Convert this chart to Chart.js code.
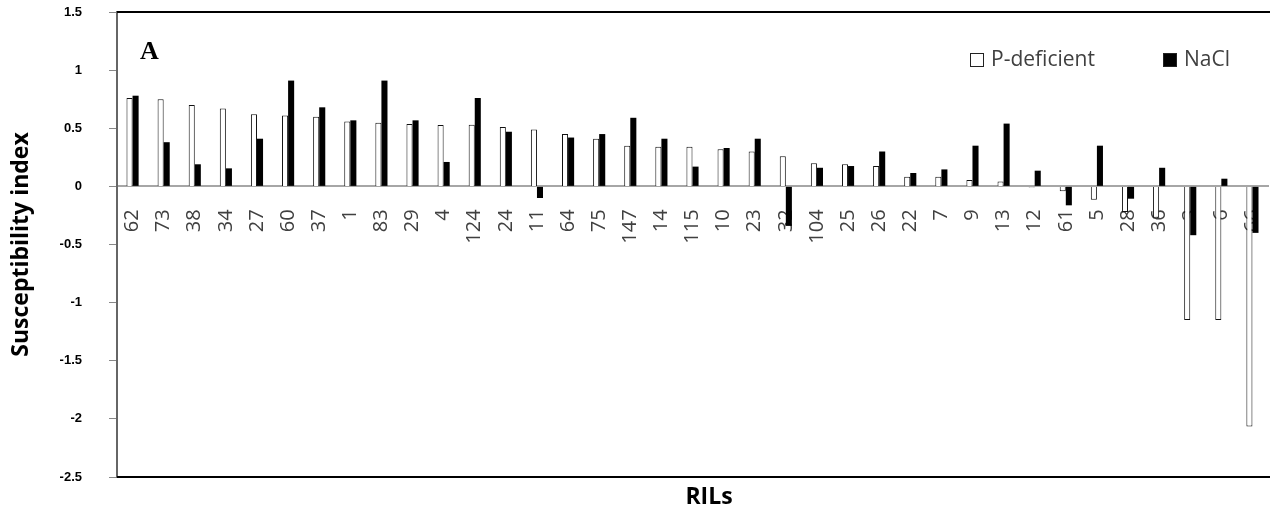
<!DOCTYPE html>
<html>
<head>
<meta charset="utf-8">
<script src="https://cdn.jsdelivr.net/npm/chart.js@4.4.1/dist/chart.umd.min.js"></script>
<style>
  body { margin: 0; background: #fff; }
  #wrap { position: relative; width: 1270px; height: 514px; }
  .tag { position: absolute; left: 140px; top: 36px; font: bold 26px "Liberation Serif", serif; color: #000; }
  .legend { position: absolute; top: 44px; font: 21px "Open Sans", sans-serif; color: #404040; white-space: nowrap; }
  .legend span.box { display: inline-block; width: 12px; height: 12px; border: 1px solid #222; vertical-align: -1px; margin-right: 7px; }
</style>
</head>
<body>
<div id="wrap">
  <canvas id="myChart" width="1270" height="514"></canvas>
  <div class="tag">A</div>
  <div class="legend" style="left:970px"><span class="box" style="background:#fff"></span>P-deficient</div>
  <div class="legend" style="left:1163px"><span class="box" style="background:#000"></span>NaCl</div>
</div>
<script>
var lines = ['62', '73', '38', '34', '27', '60', '37', '1', '83', '29', '4', '124', '24', '11', '64', '75', '147', '14',
    '115', '10', '23', '32', '104', '25', '26', '22', '7', '9', '13', '12', '61', '5', '28', '36', '3', '6', '66'];
var pDeficient = [0.76, 0.75, 0.70, 0.67, 0.62, 0.61, 0.60, 0.557, 0.548, 0.537, 0.528, 0.53, 0.51, 0.49, 0.45, 0.41, 0.35, 0.34,
    0.34, 0.32, 0.30, 0.26, 0.20, 0.19, 0.175, 0.083, 0.083, 0.055, 0.043, -0.01, -0.043, -0.115, -0.22, -0.27, -1.15, -1.15, -2.065];
var naCl = [0.78, 0.38, 0.19, 0.155, 0.41, 0.91, 0.68, 0.568, 0.91, 0.568, 0.21, 0.76, 0.47, -0.10, 0.42, 0.45, 0.59, 0.41,
    0.17, 0.33, 0.41, -0.34, 0.16, 0.175, 0.30, 0.115, 0.146, 0.35, 0.54, 0.135, -0.163, 0.35, -0.106, 0.16, -0.42, 0.066, -0.40];
var yTicks = [-2.5, -2, -1.5, -1, -0.5, 0, 0.5, 1, 1.5];

// top and bottom frame lines of the plot area, plus the x title
var frame = {
    id: 'frame',
    beforeDatasetsDraw: function (chart) {
        var a = chart.chartArea, c = chart.ctx;
        c.save();
        c.strokeStyle = '#000';
        c.lineWidth = 2;
        c.beginPath();
        c.moveTo(a.left, a.top); c.lineTo(a.right + 2, a.top);
        c.moveTo(a.left, a.bottom); c.lineTo(a.right + 2, a.bottom);
        c.stroke();
        c.fillStyle = '#000';
        c.font = 'bold 23px "Open Sans"';
        c.textAlign = 'center';
        c.textBaseline = 'middle';
        c.fillText('RILs', 709, 497);
        c.restore();
    }
};

function noPad(scale) {
    scale.paddingTop = 0;
    scale.paddingBottom = 0;
    scale.paddingLeft = 0;
    scale.paddingRight = 0;
}

var ctx = document.getElementById('myChart').getContext('2d');
var siChart = new Chart(ctx, {
    type: 'bar',
    data: {
        labels: lines,
        datasets: [
            {
                label: 'P-deficient',
                data: pDeficient,
                backgroundColor: '#fff',
                borderColor: '#111',
                borderWidth: 1
            },
            {
                label: 'NaCl',
                data: naCl,
                backgroundColor: '#000',
                borderWidth: 0
            }
        ]
    },
    options: {
        responsive: false,
        animation: false,
        devicePixelRatio: 1,
        categoryPercentage: 0.39,
        barPercentage: 1,
        layout: { padding: { top: 12, right: 2, bottom: 37, left: 0 } },
        scales: {
            x: {
                position: { y: 0 },
                afterFit: noPad,
                grid: { display: false, drawTicks: false },
                border: { color: '#a6a6a6', width: 2 },
                ticks: {
                    autoSkip: false,
                    minRotation: 90,
                    maxRotation: 90,
                    padding: 23,
                    color: '#404040',
                    font: { family: 'Open Sans', size: 20 }
                }
            },
            y: {
                min: -2.5,
                max: 1.5,
                afterFit: function (scale) { scale.width = 117; noPad(scale); },
                afterBuildTicks: function (scale) {
                    scale.ticks = yTicks.map(function (v) { return { value: v }; });
                },
                grid: { drawOnChartArea: false, tickLength: 8, color: '#888' },
                border: { color: '#666', width: 2 },
                ticks: {
                    padding: 27,
                    color: '#000',
                    font: { family: 'Liberation Sans', size: 13, weight: 'bold' },
                    callback: function (v) { return String(v); }
                },
                title: {
                    display: true,
                    text: 'Susceptibility index',
                    color: '#000',
                    padding: { top: 8, bottom: 0 },
                    font: { family: 'Open Sans', size: 23, weight: 'bold' }
                }
            }
        },
        plugins: {
            legend: { display: false },
            tooltip: { enabled: false }
        }
    },
    plugins: [frame]
});
</script>
</body>
</html>
